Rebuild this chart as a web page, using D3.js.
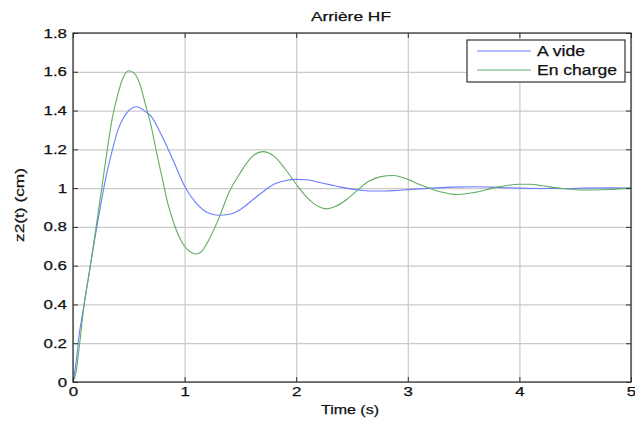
<!DOCTYPE html>
<html>
<head>
<meta charset="utf-8">
<script src="https://cdn.jsdelivr.net/npm/d3@7"></script>
<style>
  html, body { margin: 0; padding: 0; background: #fff; }
  text { font-family: "Liberation Sans", Arial, sans-serif; fill: #111; stroke: #111; stroke-width: 0.25px; }
</style>
</head>
<body>
<svg id="chart" width="635" height="423"></svg>
<script>
// ---- data ----
const titleText = "Arrière HF";
const xLabelText = "Time (s)";
const yLabelText = "z2(t) (cm)";
const seriesNames = ["A vide", "En charge"];

const xTicks = [0, 1, 2, 3, 4, 5];
const yTicks = [0, 0.2, 0.4, 0.6, 0.8, 1, 1.2, 1.4, 1.6, 1.8];

const tBlue = [0, 0.03, 0.05, 0.1, 0.15, 0.2, 0.25, 0.3, 0.35, 0.4, 0.45, 0.5, 0.57, 0.65, 0.7, 0.8, 0.9, 1.0, 1.1, 1.2, 1.3, 1.4, 1.5, 1.6, 1.7, 1.8, 1.9, 2.0, 2.1, 2.2, 2.3, 2.4, 2.5, 2.6, 2.7, 2.8, 2.9, 3.0, 3.2, 3.4, 3.6, 3.8, 4.0, 4.2, 4.4, 4.6, 4.8, 5.0];
const vBlue = [0, 0.11, 0.22, 0.40, 0.58, 0.755, 0.92, 1.07, 1.19, 1.295, 1.36, 1.40, 1.42, 1.395, 1.37, 1.265, 1.14, 1.01, 0.925, 0.875, 0.86, 0.865, 0.89, 0.935, 0.98, 1.02, 1.038, 1.045, 1.043, 1.03, 1.018, 1.005, 0.995, 0.988, 0.985, 0.985, 0.988, 0.992, 1.0, 1.005, 1.007, 1.004, 1.0, 0.998, 0.998, 1.0, 1.001, 1.0];

const tGreen = [0, 0.03, 0.06, 0.1, 0.15, 0.2, 0.25, 0.3, 0.35, 0.4, 0.45, 0.5, 0.55, 0.6, 0.65, 0.7, 0.75, 0.8, 0.85, 0.9, 0.95, 1.0, 1.05, 1.1, 1.15, 1.2, 1.3, 1.4, 1.5, 1.6, 1.7, 1.8, 1.9, 2.0, 2.1, 2.2, 2.27, 2.35, 2.45, 2.55, 2.65, 2.75, 2.87, 3.0, 3.1, 3.2, 3.3, 3.45, 3.6, 3.8, 4.0, 4.1, 4.2, 4.4, 4.6, 4.8, 5.0];
const vGreen = [0, 0.06, 0.20, 0.40, 0.58, 0.77, 0.97, 1.17, 1.355, 1.48, 1.57, 1.605, 1.592, 1.535, 1.43, 1.32, 1.18, 1.05, 0.92, 0.825, 0.75, 0.70, 0.672, 0.66, 0.672, 0.715, 0.835, 0.98, 1.08, 1.16, 1.188, 1.165, 1.10, 1.02, 0.95, 0.905, 0.893, 0.905, 0.94, 0.99, 1.035, 1.058, 1.065, 1.045, 1.02, 0.998, 0.98, 0.967, 0.978, 1.005, 1.02, 1.02, 1.012, 0.997, 0.99, 0.993, 1.0];

const colors = ["#6a7cff", "#62ad62"];

// ---- layout ----
const svg = d3.select("#chart");
const L = 73, R = 631, T = 33, B = 382;
const W = R - L, H = B - T;

const x = d3.scaleLinear().domain([0, 5]).range([L, R]);
const y = d3.scaleLinear().domain([0, 1.8]).range([B, T]);

svg.append("rect").attr("width", 635).attr("height", 423).attr("fill", "#fff");

function stretch(sel, k) {
  sel.each(function () {
    const w = this.getComputedTextLength();
    d3.select(this).attr("textLength", w * k).attr("lengthAdjust", "spacingAndGlyphs");
  });
}
function fixLen(sel, len) {
  sel.attr("textLength", len).attr("lengthAdjust", "spacingAndGlyphs");
}

// grid
const gridX = svg.append("g").attr("transform", `translate(0,${B})`)
  .call(d3.axisBottom(x).tickValues(xTicks).tickSize(-H).tickFormat(""));
const gridY = svg.append("g").attr("transform", `translate(${L},0)`)
  .call(d3.axisLeft(y).tickValues(yTicks).tickSize(-W).tickFormat(""));
[gridX, gridY].forEach(g => {
  g.select(".domain").remove();
  g.selectAll("line").attr("stroke", "#cacaca").attr("stroke-width", 1.2);
});

// curves
const line = d3.line().x(d => x(d[0])).y(d => y(d[1])).curve(d3.curveMonotoneX);
const blueData = tBlue.map((t, i) => [t, vBlue[i]]);
const greenData = tGreen.map((t, i) => [t, vGreen[i]]);
svg.append("path").datum(blueData).attr("d", line).attr("fill", "none")
  .attr("stroke", colors[0]).attr("stroke-width", 1.1);
svg.append("path").datum(greenData).attr("d", line).attr("fill", "none")
  .attr("stroke", colors[1]).attr("stroke-width", 1.1);

// axes with inward ticks
const fmt = d => String(+d.toFixed(1));
const axB = svg.append("g").attr("transform", `translate(0,${B})`)
  .call(d3.axisBottom(x).tickValues(xTicks).tickSizeInner(-5).tickSizeOuter(0).tickPadding(5).tickFormat(fmt));
const axL = svg.append("g").attr("transform", `translate(${L},0)`)
  .call(d3.axisLeft(y).tickValues(yTicks).tickSizeInner(-5).tickSizeOuter(0).tickPadding(6).tickFormat(fmt));
const axT = svg.append("g").attr("transform", `translate(0,${T})`)
  .call(d3.axisTop(x).tickValues(xTicks).tickSizeInner(-5).tickSizeOuter(0).tickFormat(""));
const axR = svg.append("g").attr("transform", `translate(${R},0)`)
  .call(d3.axisRight(y).tickValues(yTicks).tickSizeInner(-5).tickSizeOuter(0).tickFormat(""));
[axB, axL, axT, axR].forEach(g => {
  g.select(".domain").remove();
  g.selectAll("line").attr("stroke", "#333").attr("stroke-width", 1);
  g.selectAll("text").attr("font-size", "12.5px").attr("fill", "#111")
    .attr("font-family", "Liberation Sans, Arial, sans-serif");
});
stretch(axB.selectAll("text"), 1.35);
stretch(axL.selectAll("text"), 1.35);

// box
svg.append("rect").attr("x", L).attr("y", T).attr("width", W).attr("height", H)
  .attr("fill", "none").attr("stroke", "#2a2a2a").attr("stroke-width", 1.2);

// title & labels
fixLen(svg.append("text").attr("x", 351).attr("y", 21).attr("text-anchor", "middle")
  .attr("font-size", "13px").text(titleText), 80);
fixLen(svg.append("text").attr("x", 350).attr("y", 414).attr("text-anchor", "middle")
  .attr("font-size", "13px").text(xLabelText), 58);
fixLen(svg.append("text").attr("transform", "translate(24,205) rotate(-90)")
  .attr("text-anchor", "middle").attr("font-size", "13px").text(yLabelText), 74);

// legend
const lg = svg.append("g");
lg.append("rect").attr("x", 467).attr("y", 40).attr("width", 158).attr("height", 42)
  .attr("fill", "#fff").attr("stroke", "#333").attr("stroke-width", 1.2);
const rowsY = [51, 70];
const baseY = [55.5, 75];
const lens = [48, 80];
seriesNames.forEach((name, i) => {
  lg.append("line").attr("x1", 477).attr("x2", 531).attr("y1", rowsY[i]).attr("y2", rowsY[i])
    .attr("stroke", colors[i]).attr("stroke-width", 1.1);
  fixLen(lg.append("text").attr("x", 537).attr("y", baseY[i]).attr("font-size", "14px").text(name), lens[i]);
});
</script>
</body>
</html>
